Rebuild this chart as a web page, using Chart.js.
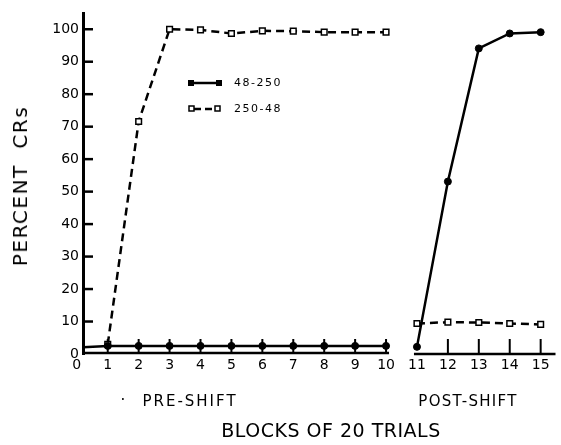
<!DOCTYPE html>
<html>
<head>
<meta charset="utf-8">
<script src="https://cdn.jsdelivr.net/npm/chart.js@4/dist/chart.umd.min.js"></script>
<style>
  html, body { margin: 0; padding: 0; background: #fff; }
  #wrap { position: relative; width: 561px; height: 445px; font-family: "DejaVu Sans", sans-serif; color: #000; }
  #chart { position: absolute; left: 0; top: 0; }
  .lbl { position: absolute; transform: translate(-50%, -50%); white-space: nowrap; }
</style>
</head>
<body>
<div id="wrap">
  <canvas id="chart" width="561" height="445"></canvas>
  <div class="lbl" style="left:20px; top:186px; font-size:20px; letter-spacing:1.5px; transform:translate(-50%,-50%) rotate(-90deg);">PERCENT&nbsp;&nbsp;CRs</div>
  <div class="lbl" style="left:123px; top:400px; font-size:15px;">·</div>
  <div class="lbl" style="left:190px; top:401px; font-size:15px; letter-spacing:2px;">PRE-SHIFT</div>
  <div class="lbl" style="left:468px; top:401px; font-size:15px; letter-spacing:1.3px;">POST-SHIFT</div>
  <div class="lbl" style="left:331px; top:430px; font-size:19px; letter-spacing:0.5px;">BLOCKS OF 20 TRIALS</div>
</div>
<script>
    // blocks of 20 trials, 0-10 pre-shift, 11-15 post-shift
    const BLOCKS = [0, 1, 2, 3, 4, 5, 6, 7, 8, 9, 10, 11, 12, 13, 14, 15];
    const Y_TICKS = [0, 10, 20, 30, 40, 50, 60, 70, 80, 90, 100];
    const SERIES_NAMES = ["48-250", "250-48"];

    const cr_48_250 = [2, 2.5, 2.5, 2.5, 2.5, 2.5, 2.5, 2.5, 2.5, 2.5, 2.5, 2.2, 53.1, 94.1, 98.7, 99.1];
    const cr_250_48 = [null, 3, 71.6, 100, 99.8, 98.7, 99.5, 99.4, 99.1, 99.1, 99.1, 9.4, 9.8, 9.7, 9.4, 9.1];

    const SHIFT_AFTER = 10; // last pre-shift block, line breaks after it

    const toPoints = arr => BLOCKS.map((b, i) => ({ x: b, y: arr[i] }));
    const breakSegment = c => c.p0.parsed.x === SHIFT_AFTER ? "rgba(0,0,0,0)" : "#000";

    // axis lines with the gap, inner ticks, and the little legend
    const axisPlugin = {
        id: "axisPlugin",
        beforeDatasetsDraw(chart) {
            const { ctx, chartArea, scales } = chart;
            const xs = scales.x, ys = scales.y;
            const y0 = chartArea.bottom;
            ctx.save();
            ctx.strokeStyle = "#000";
            ctx.lineCap = "butt";

            // y ticks pointing inward
            ctx.lineWidth = 2.5;
            Y_TICKS.forEach(v => {
                if (v === 0) return;
                const py = ys.getPixelForValue(v);
                ctx.beginPath();
                ctx.moveTo(chartArea.left, py);
                ctx.lineTo(chartArea.left + 10, py);
                ctx.stroke();
            });

            // broken x axis
            ctx.lineWidth = 2.5;
            ctx.beginPath();
            ctx.moveTo(chartArea.left, y0 - 1);
            ctx.lineTo(xs.getPixelForValue(SHIFT_AFTER) + 3, y0 - 1);
            ctx.moveTo(xs.getPixelForValue(SHIFT_AFTER + 1) - 3, y0);
            ctx.lineTo(chartArea.right, y0);
            ctx.stroke();

            // x ticks pointing up
            ctx.lineWidth = 2;
            BLOCKS.forEach(b => {
                if (b === 0 || b === SHIFT_AFTER + 1) return;
                const px = xs.getPixelForValue(b);
                ctx.beginPath();
                ctx.moveTo(px, y0);
                ctx.lineTo(px, y0 - 15);
                ctx.stroke();
            });
            ctx.restore();
        },
        afterDraw(chart) {
            const { ctx } = chart;
            ctx.save();
            ctx.strokeStyle = "#000";
            ctx.lineWidth = 2.5;
            // 48-250: solid with filled squares
            ctx.beginPath();
            ctx.moveTo(191, 83);
            ctx.lineTo(219, 83);
            ctx.stroke();
            ctx.fillStyle = "#000";
            ctx.fillRect(188, 80, 6, 6);
            ctx.fillRect(216, 80, 6, 6);
            // 250-48: dashed with open squares
            ctx.setLineDash([7, 4]);
            ctx.beginPath();
            ctx.moveTo(194, 109);
            ctx.lineTo(216, 109);
            ctx.stroke();
            ctx.setLineDash([]);
            ctx.lineWidth = 1.5;
            ctx.fillStyle = "#fff";
            [189, 215].forEach(x => {
                ctx.fillRect(x, 106, 5, 5);
                ctx.strokeRect(x, 106, 5, 5);
            });
            ctx.fillStyle = "#000";
            ctx.font = "11px 'DejaVu Sans'";
            ctx.textBaseline = "middle";
            ctx.letterSpacing = "1.5px";
            ctx.fillText(SERIES_NAMES[0], 234, 83);
            ctx.fillText(SERIES_NAMES[1], 234, 109);
            ctx.restore();
        }
    };

    const ctx = document.getElementById("chart").getContext("2d");
    new Chart(ctx, {
        type: "line",
        data: {
            datasets: [
                {
                    label: SERIES_NAMES[0],
                    data: toPoints(cr_48_250),
                    borderColor: "#000",
                    borderWidth: 2.5,
                    backgroundColor: "#000",
                    pointBackgroundColor: "#000",
                    pointBorderColor: "#000",
                    pointStyle: "circle",
                    pointRadius: c => c.dataIndex === 0 ? 0 : 3.5,
                    pointBorderWidth: 1,
                    tension: 0,
                    segment: { borderColor: breakSegment }
                },
                {
                    label: SERIES_NAMES[1],
                    data: toPoints(cr_250_48),
                    borderColor: "#000",
                    borderWidth: 2.5,
                    borderDash: [8, 5],
                    pointBackgroundColor: "#fff",
                    pointBorderColor: "#000",
                    pointStyle: "rect",
                    pointRadius: 4,
                    pointBorderWidth: 1.5,
                    tension: 0,
                    segment: { borderColor: breakSegment }
                }
            ]
        },
        options: {
            responsive: false,
            animation: false,
            devicePixelRatio: 1,
            layout: { padding: { top: 13, left: 0, right: 0, bottom: 0 } },
            plugins: {
                legend: { display: false },
                tooltip: { enabled: false }
            },
            scales: {
                x: {
                    type: "linear",
                    min: 0.2,
                    max: 15.48,
                    afterBuildTicks: s => { s.ticks = BLOCKS.map(v => ({ value: v })); },
                    afterFit: s => { s.height = 91; },
                    grid: { display: false, drawTicks: false },
                    border: { display: false },
                    ticks: {
                        color: "#000",
                        padding: 3,
                        maxRotation: 0,
                        autoSkip: false,
                        font: { family: "DejaVu Sans", size: 14 }
                    }
                },
                y: {
                    min: 0,
                    max: 105,
                    afterBuildTicks: s => { s.ticks = Y_TICKS.map(v => ({ value: v })); },
                    afterFit: s => { s.width = 83; },
                    grid: { display: false, drawTicks: false },
                    border: { display: true, color: "#000", width: 3 },
                    ticks: {
                        color: "#000",
                        padding: 4,
                        font: { family: "DejaVu Sans", size: 14 }
                    }
                }
            }
        },
        plugins: [axisPlugin]
    });
</script>
</body>
</html>
